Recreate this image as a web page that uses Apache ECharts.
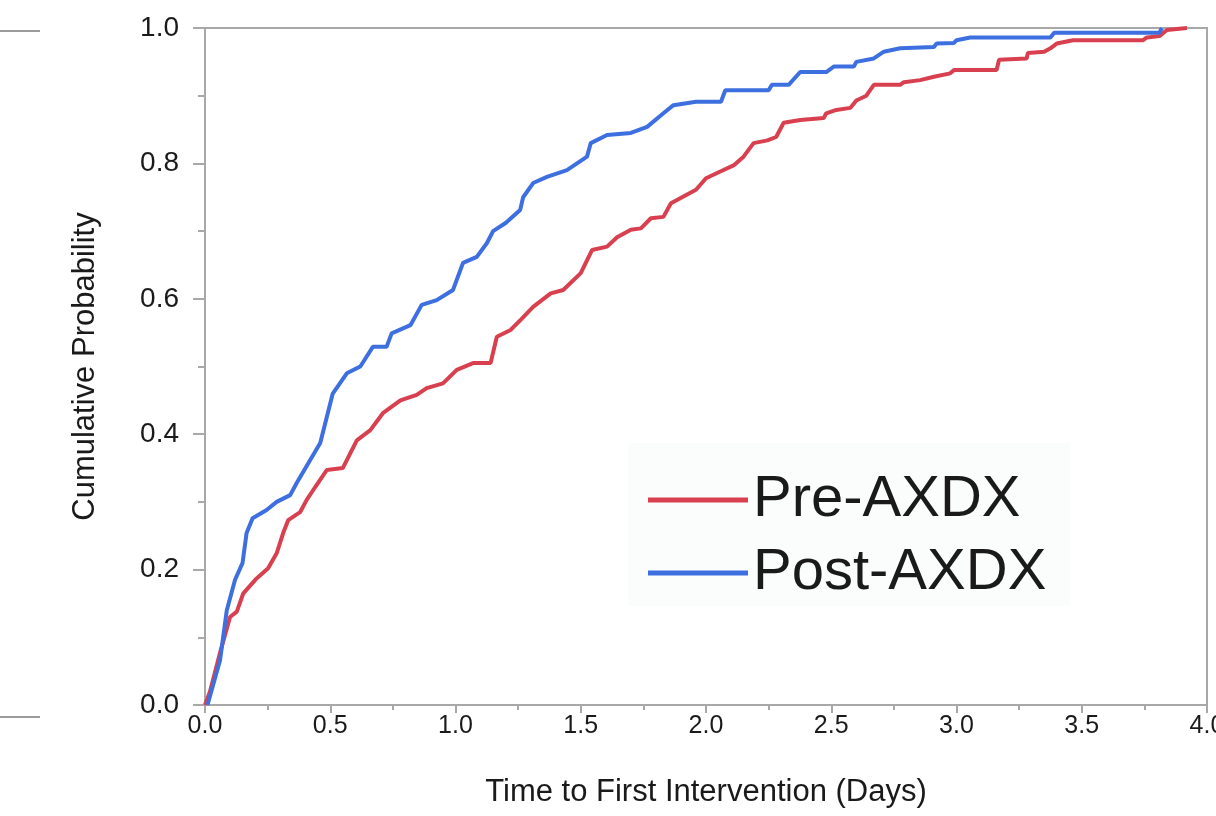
<!DOCTYPE html>
<html>
<head>
<meta charset="utf-8">
<title>Cumulative Probability</title>
<script src="https://cdn.jsdelivr.net/npm/echarts@6/dist/echarts.min.js"></script>
<style>
  html, body { margin: 0; padding: 0; background: #fff; }
  #chart { width: 1216px; height: 816px; }
</style>
</head>
<body>
<div id="chart"></div>
<script>
// Pre-AXDX (red) curve
var preTime = [0.0, 0.02, 0.06, 0.1, 0.127, 0.153, 0.206, 0.252, 0.286, 0.312, 0.332, 0.38, 0.406, 0.44, 0.486, 0.55,
  0.606, 0.66, 0.71, 0.78, 0.845, 0.885, 0.95, 1.005, 1.07, 1.14, 1.165, 1.22, 1.26, 1.31, 1.38, 1.43, 1.5, 1.545,
  1.605, 1.645, 1.7, 1.74, 1.78, 1.83, 1.86, 1.91, 1.96, 2.0, 2.057, 2.11, 2.15, 2.19, 2.245, 2.28, 2.31, 2.376,
  2.47, 2.48, 2.52, 2.576, 2.6, 2.64, 2.67, 2.775, 2.79, 2.855, 2.91, 2.975, 2.99, 3.16, 3.17, 3.28, 3.285, 3.35,
  3.375, 3.4, 3.465, 3.745, 3.76, 3.81, 3.84, 3.92];
var preProb = [0.0, 0.02, 0.077, 0.13, 0.138, 0.165, 0.187, 0.202, 0.224, 0.254, 0.273, 0.285, 0.303, 0.322, 0.347, 0.35,
  0.391, 0.406, 0.431, 0.45, 0.458, 0.468, 0.475, 0.495, 0.505, 0.505, 0.544, 0.554, 0.569, 0.588, 0.608, 0.613, 0.638, 0.672,
  0.677, 0.691, 0.702, 0.704, 0.719, 0.721, 0.741, 0.751, 0.761, 0.778, 0.788, 0.797, 0.81, 0.83, 0.834, 0.839, 0.86, 0.864,
  0.867, 0.874, 0.879, 0.882, 0.893, 0.9, 0.916, 0.916, 0.92, 0.923, 0.928, 0.933, 0.938, 0.938, 0.953, 0.955, 0.963, 0.965,
  0.97, 0.977, 0.982, 0.982, 0.986, 0.988, 0.997, 1.0];

// Post-AXDX (blue) curve
var postTime = [0.01, 0.06, 0.087, 0.12, 0.15, 0.166, 0.19, 0.246, 0.286, 0.34, 0.366, 0.42, 0.46, 0.51, 0.566, 0.62,
  0.67, 0.725, 0.745, 0.82, 0.865, 0.925, 0.99, 1.03, 1.085, 1.125, 1.15, 1.2, 1.258, 1.27, 1.31, 1.365, 1.445, 1.525,
  1.54, 1.605, 1.7, 1.765, 1.83, 1.87, 1.96, 2.06, 2.077, 2.25, 2.263, 2.33, 2.376, 2.48, 2.51, 2.59, 2.6, 2.67,
  2.71, 2.775, 2.91, 2.92, 2.99, 3.0, 3.055, 3.375, 3.39, 3.81, 3.82];
var postProb = [0.0, 0.066, 0.14, 0.185, 0.21, 0.254, 0.276, 0.288, 0.3, 0.31, 0.328, 0.362, 0.387, 0.46, 0.49, 0.5,
  0.529, 0.529, 0.549, 0.561, 0.591, 0.598, 0.613, 0.653, 0.662, 0.682, 0.7, 0.712, 0.731, 0.75, 0.771, 0.78, 0.79, 0.81,
  0.83, 0.842, 0.845, 0.854, 0.874, 0.886, 0.891, 0.891, 0.908, 0.908, 0.916, 0.916, 0.935, 0.935, 0.943, 0.943, 0.95, 0.955,
  0.965, 0.97, 0.972, 0.977, 0.978, 0.982, 0.986, 0.986, 0.993, 0.993, 1.0];

var seriesNames = ['Pre-AXDX', 'Post-AXDX'];
var xTicks = [0, 0.5, 1, 1.5, 2, 2.5, 3, 3.5, 4];

function pairs(xs, ys) {
  var out = [];
  for (var i = 0; i < xs.length; i++) out.push([xs[i], ys[i]]);
  return out;
}

var chart = echarts.init(document.getElementById('chart'));
var axisGray = '#a8a8a8';
var textColor = '#1a1a1a';
var font = 'Liberation Sans';

chart.setOption({
  animation: false,
  backgroundColor: '#ffffff',
  grid: {
    left: 205, right: 9, top: 28, bottom: 111,
    outerBoundsMode: 'none',
    show: true, borderColor: axisGray, borderWidth: 2, backgroundColor: 'transparent'
  },
  legend: {
    orient: 'vertical',
    left: 628, top: 443,
    padding: [27, 24, 3, 20],
    backgroundColor: 'rgba(244,245,245,0.35)',
    itemWidth: 100, itemHeight: 5, itemGap: 13,
    icon: 'rect',
    data: seriesNames,
    textStyle: { fontFamily: font, fontSize: 58, color: textColor, lineHeight: 60 }
  },
  xAxis: {
    type: 'value',
    min: xTicks[0], max: xTicks[xTicks.length - 1], interval: 0.5,
    name: 'Time to First Intervention (Days)',
    nameLocation: 'middle', nameGap: 72,
    nameTextStyle: { fontFamily: font, fontSize: 31, color: textColor },
    axisLine: { lineStyle: { color: axisGray, width: 2 } },
    axisTick: { length: 8, lineStyle: { color: axisGray, width: 2 } },
    minorTick: { show: true, splitNumber: 2, length: 5, lineStyle: { color: axisGray, width: 2 } },
    splitLine: { show: false },
    axisLabel: {
      margin: 9, fontFamily: font, fontSize: 25, color: textColor,
      formatter: function (v) { return v.toFixed(1); }
    }
  },
  yAxis: {
    type: 'value',
    min: 0, max: 1, interval: 0.2,
    name: 'Cumulative Probability',
    nameLocation: 'middle', nameGap: 104, nameRotate: 90,
    nameTextStyle: { fontFamily: font, fontSize: 31, color: textColor },
    axisLine: { show: true, lineStyle: { color: axisGray, width: 2 } },
    axisTick: { show: true, length: 12, lineStyle: { color: axisGray, width: 2 } },
    minorTick: { show: true, splitNumber: 2, length: 7, lineStyle: { color: axisGray, width: 2 } },
    splitLine: { show: false },
    axisLabel: {
      margin: 26, fontFamily: font, fontSize: 28, color: textColor,
      formatter: function (v) { return v.toFixed(1); }
    }
  },
  graphic: [
    { type: 'line', shape: { x1: 0, y1: 31, x2: 40, y2: 31 }, style: { stroke: '#9a9a9a', lineWidth: 2 } },
    { type: 'line', shape: { x1: 0, y1: 717, x2: 40, y2: 717 }, style: { stroke: '#9a9a9a', lineWidth: 2 } }
  ],
  series: [
    {
      name: seriesNames[0], type: 'line', showSymbol: false, symbol: 'none',
      data: pairs(preTime, preProb),
      lineStyle: { color: '#d8404f', width: 4 }, itemStyle: { color: '#d8404f' }
    },
    {
      name: seriesNames[1], type: 'line', showSymbol: false, symbol: 'none',
      data: pairs(postTime, postProb),
      lineStyle: { color: '#3d6fe0', width: 4 }, itemStyle: { color: '#3d6fe0' }
    }
  ]
});
</script>
</body>
</html>
